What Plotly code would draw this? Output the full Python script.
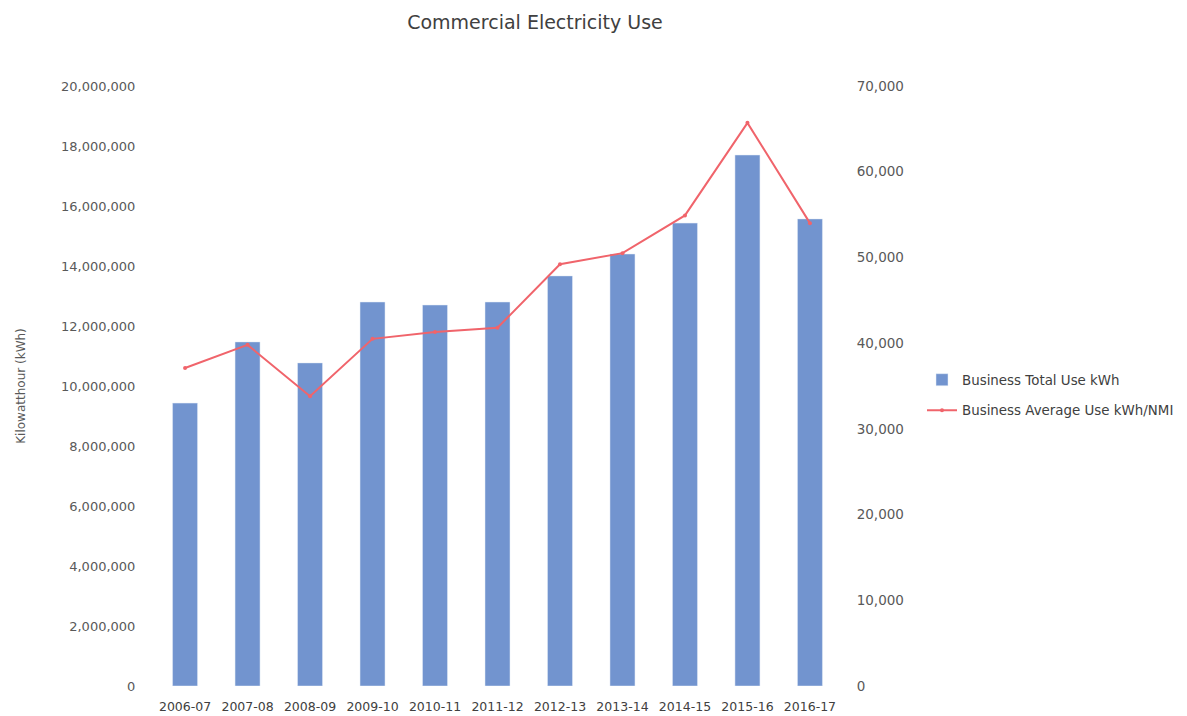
import plotly.graph_objects as go

years = ["2006-07", "2007-08", "2008-09", "2009-10", "2010-11", "2011-12",
         "2012-13", "2013-14", "2014-15", "2015-16", "2016-17"]
total_kwh = [9430000, 11470000, 10770000, 12800000, 12700000, 12800000,
             13670000, 14400000, 15430000, 17700000, 15570000]
avg_kwh_nmi = [37100, 39800, 33800, 40500, 41300, 41800,
               49200, 50500, 54900, 65700, 54000]

left_ticks = list(range(0, 20000001, 2000000))
right_ticks = list(range(0, 70001, 10000))

dej = "DejaVu Sans, Verdana, sans-serif"
txt = "#595959"

off = 8  # page body offset compensation

fig = go.Figure()
fig.add_trace(go.Bar(
    x=years, y=total_kwh, name="Business Total Use kWh",
    marker=dict(color="#7294CF"), width=0.4, yaxis="y", legendgroup="a",
))
fig.add_trace(go.Scatter(
    x=years, y=avg_kwh_nmi, name="Business Average Use kWh/NMI",
    mode="lines+markers", line=dict(color="#F0646B", width=2),
    marker=dict(size=4, color="#F0646B"), yaxis="y2", legendgroup="b",
))

fig.update_layout(
    width=1187, height=716,
    margin=dict(l=139, r=347, t=86 - off, b=30 + off),
    paper_bgcolor="white", plot_bgcolor="white",
    font=dict(family=dej, size=12, color=txt),
    title=dict(text="Commercial Electricity Use", x=(535 - off)/1187, xanchor="center",
               y=1 - (22 - off)/716, yanchor="middle",
               font=dict(size=19, color="#404040", family=dej)),
    xaxis=dict(type="category", showgrid=False, showline=False, zeroline=False,
               automargin=False,
               ticks="outside", ticklen=9, tickcolor="rgba(0,0,0,0)",
               tickfont=dict(size=12.5, color="#404040", family=dej)),
    yaxis=dict(range=[0, 20000000], tickvals=left_ticks, tickformat=",d",
               showgrid=False, zeroline=False, showline=False,
               tickfont=dict(size=13, family=dej),
               ticks="outside", ticklen=8, tickcolor="rgba(0,0,0,0)",
               title=dict(text="Kilowatthour (kWh)", standoff=32,
                          font=dict(size=12, color=txt, family=dej))),
    yaxis2=dict(range=[0, 70000], tickvals=right_ticks, tickformat=",d",
                overlaying="y", side="right", showgrid=False, zeroline=False,
                showline=False, ticks="outside", ticklen=5,
                tickfont=dict(size=13.5, family=dej),
                tickcolor="rgba(0,0,0,0)"),
    legend=dict(x=(922 - off)/1187, xref="container", y=0.485, yanchor="middle",
                xanchor="left", font=dict(size=13.4, color="#404040", family=dej),
                tracegroupgap=10),
    bargap=0.6,
)

fig.write_html("out.html")
